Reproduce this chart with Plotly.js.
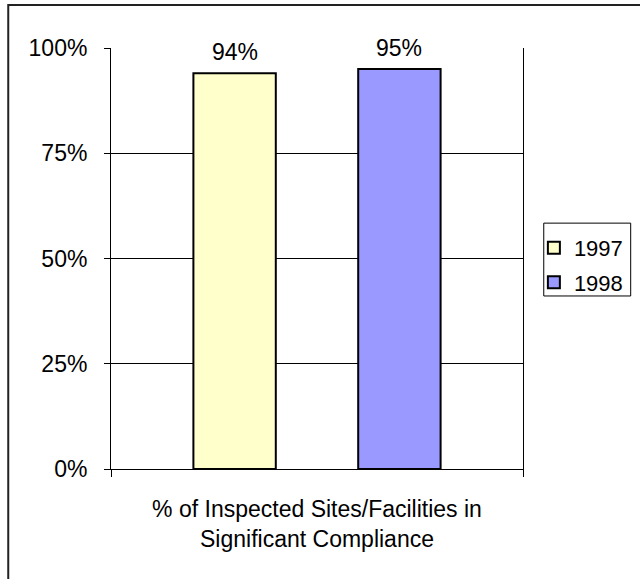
<!DOCTYPE html>
<html>
<head>
<meta charset="utf-8">
<script src="https://cdn.plot.ly/plotly-3.0.1.min.js"></script>
<style>
  html, body { margin: 0; padding: 0; background: #ffffff; }
  #chart { width: 640px; height: 579px; }
</style>
</head>
<body>
<div id="chart"></div>
<script>
// ---- data ----
const categories = ['% of Inspected Sites/Facilities in<br>Significant Compliance'];
const seriesNames = ['1997', '1998'];
const values1997 = [0.94];
const values1998 = [0.95];
const yTickValues = [0, 0.25, 0.5, 0.75, 1];

// ---- style ----
const FONT = 'Liberation Sans, Arial, sans-serif';
const barWidth = 0.2;
const barOffsets = [-0.3, 0.1];
const barFills = ['#FFFFCC', '#9999FF'];
const seriesValues = [values1997, values1998];

const traces = seriesNames.map((name, i) => ({
  type: 'bar',
  name: name,
  legendgroup: name,
  x: categories,
  y: seriesValues[i],
  width: barWidth,
  offset: barOffsets[i],
  marker: { color: barFills[i], line: { color: '#000000', width: 2 } },
  hoverinfo: 'skip'
}));

const annotations = [];
seriesValues.forEach((vals, i) => {
  vals.forEach((v, j) => {
    annotations.push({
      xref: 'x', yref: 'y',
      x: j + barOffsets[i] + barWidth / 2,
      y: v,
      text: Math.round(v * 100) + '%',
      showarrow: false,
      yanchor: 'middle',
      yshift: 21,
      font: { family: FONT, size: 23, color: '#000000' }
    });
  });
});

const layout = {
  width: 640,
  height: 579,
  margin: { l: 111, r: 112, t: 48, b: 110, pad: 0 },
  paper_bgcolor: '#ffffff',
  plot_bgcolor: '#ffffff',
  barmode: 'overlay',
  showlegend: true,
  font: { family: FONT, size: 23, color: '#000000' },
  xaxis: {
    type: 'category',
    range: [-0.5, 0.5],
    showline: true,
    linecolor: '#000000',
    linewidth: 1,
    ticks: 'outside',
    tickson: 'boundaries',
    ticklen: 7,
    tickcolor: '#000000',
    tickwidth: 1,
    showgrid: false,
    zeroline: false,
    ticklabelstandoff: 19,
    tickfont: { family: FONT, size: 23, color: '#000000' },
    fixedrange: true
  },
  yaxis: {
    range: [0, 1],
    tickvals: yTickValues,
    tickformat: '.0%',
    showline: true,
    mirror: true,
    linecolor: '#000000',
    linewidth: 1,
    ticks: 'outside',
    ticklen: 6,
    tickcolor: '#000000',
    tickwidth: 1,
    showgrid: true,
    gridcolor: '#000000',
    gridwidth: 1,
    zeroline: false,
    ticklabelstandoff: 12,
    tickfont: { family: FONT, size: 23, color: '#000000' },
    fixedrange: true
  },
  legend: {
    x: 1.0264,
    xanchor: 'left',
    y: 0.575,
    yanchor: 'top',
    borderwidth: 0,
    bgcolor: 'rgba(0,0,0,0)',
    traceorder: 'grouped',
    tracegroupgap: 3,
    font: { family: FONT, size: 22, color: '#000000' }
  },
  shapes: [
    // legend frame
    { type: 'rect', xref: 'paper', yref: 'paper', x0: 1.0504, x1: 1.2614, y0: 0.411, y1: 0.584,
      line: { color: '#000000', width: 1 }, fillcolor: 'rgba(0,0,0,0)', layer: 'below' },
    // chart outer frame (right/bottom edges fall outside the picture)
    { type: 'rect', xref: 'paper', yref: 'paper', x0: -0.2494, x1: 1.30, y0: -0.30, y1: 1.102,
      line: { color: '#222222', width: 2 }, fillcolor: 'rgba(0,0,0,0)', layer: 'below' }
  ],
  annotations: annotations
};

Plotly.newPlot('chart', traces, layout, { displayModeBar: false, staticPlot: true });
</script>
</body>
</html>
